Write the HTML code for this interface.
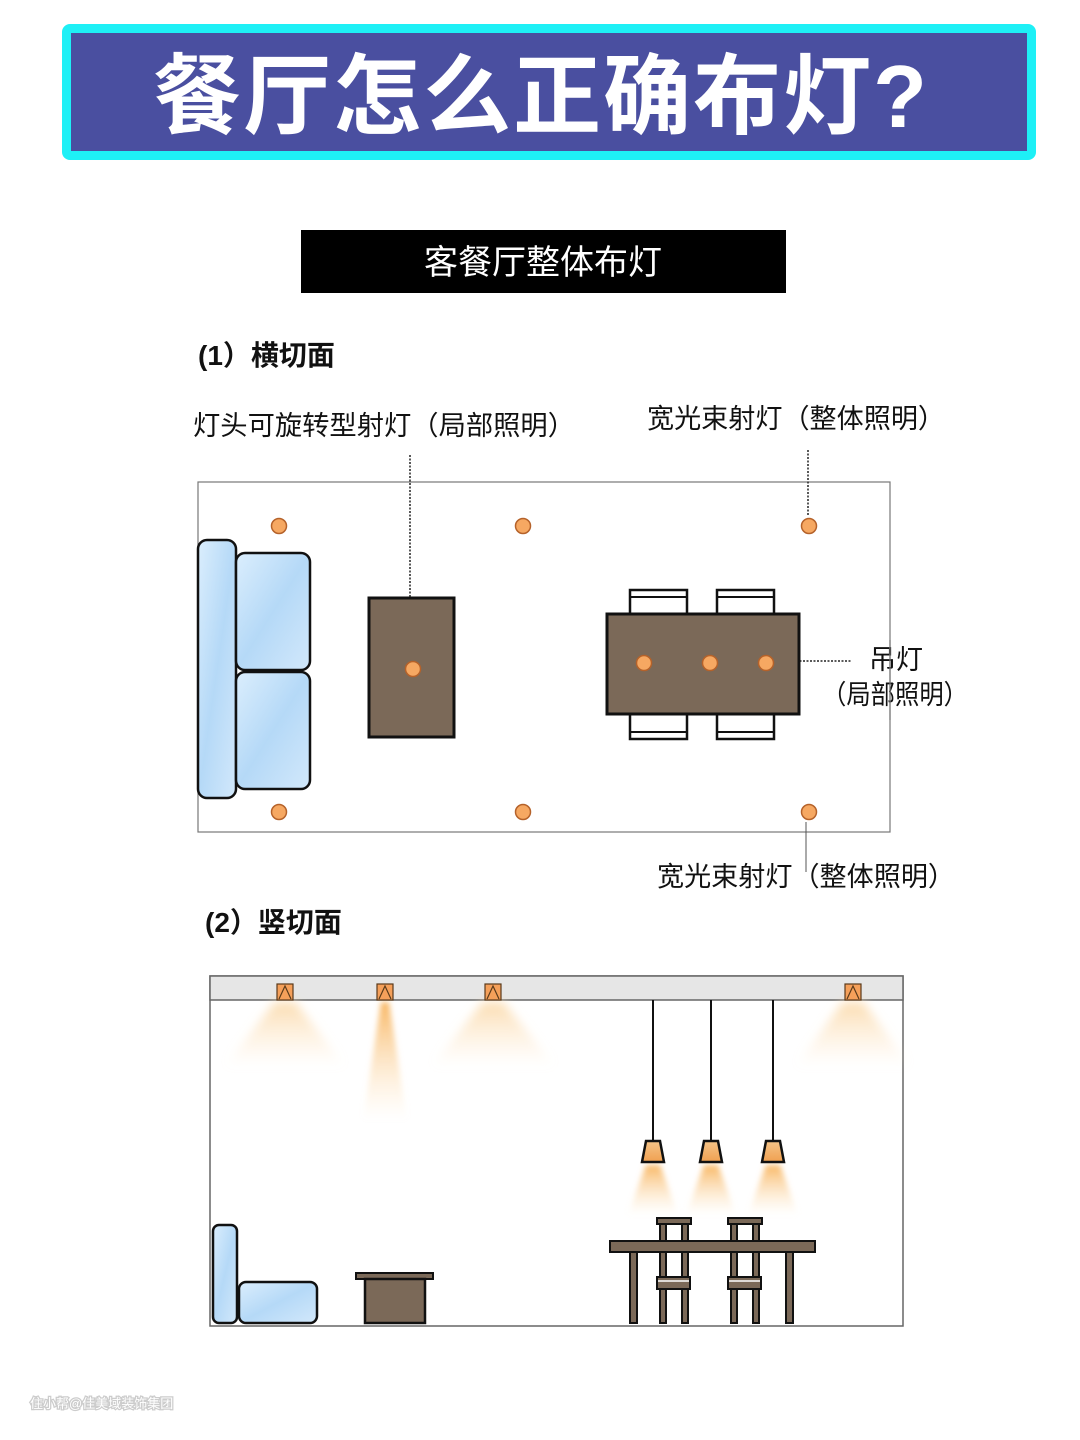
<!DOCTYPE html>
<html><head><meta charset="utf-8"><style>
html,body{margin:0;padding:0;background:#fff;width:1080px;height:1440px;overflow:hidden}
svg{display:block}
text{font-family:"Liberation Sans","Noto Sans CJK SC",sans-serif}
</style></head><body>
<svg width="1080" height="1440" viewBox="0 0 1080 1440" xmlns="http://www.w3.org/2000/svg">
<defs>
<linearGradient id="sofa" x1="0" y1="0" x2="1" y2="1">
<stop offset="0" stop-color="#dbeefd"/><stop offset="0.5" stop-color="#b5d9f7"/><stop offset="1" stop-color="#d2e8fb"/>
</linearGradient>
<linearGradient id="beamW" x1="0" y1="0" x2="0" y2="1">
<stop offset="0" stop-color="#fbd9a8" stop-opacity="0.9"/><stop offset="1" stop-color="#fde8cc" stop-opacity="0"/>
</linearGradient>
<linearGradient id="beamN" x1="0" y1="0" x2="0" y2="1">
<stop offset="0" stop-color="#f8b866"/><stop offset="1" stop-color="#fde2bd" stop-opacity="0"/>
</linearGradient>
<linearGradient id="shade" x1="0" y1="0" x2="0" y2="1">
<stop offset="0" stop-color="#f5c488"/><stop offset="1" stop-color="#f0a050"/>
</linearGradient>
<filter id="blur" x="-30%" y="-30%" width="160%" height="160%"><feGaussianBlur stdDeviation="5"/></filter>
<filter id="blur2" x="-30%" y="-30%" width="160%" height="160%"><feGaussianBlur stdDeviation="3"/></filter>
</defs>

<rect x="62" y="24" width="974" height="136" rx="8" fill="#1ef0f6"/>
<rect x="71" y="33" width="956" height="118" fill="#4a4fa0"/>
<text x="541" y="127" text-anchor="middle" font-size="88" font-weight="bold" fill="#fff" letter-spacing="2">餐厅怎么正确布灯?</text>

<rect x="301" y="230" width="485" height="63" fill="#000"/>
<text x="543" y="274" text-anchor="middle" font-size="34" fill="#fff">客餐厅整体布灯</text>

<text x="198" y="365" font-size="28" font-weight="bold" fill="#111">(1）横切面</text>
<text x="193" y="435" font-size="27" fill="#111" textLength="382" lengthAdjust="spacingAndGlyphs">灯头可旋转型射灯（局部照明）</text>
<text x="647" y="428" font-size="27" fill="#111" textLength="298" lengthAdjust="spacingAndGlyphs">宽光束射灯（整体照明）</text>

<rect x="198" y="482" width="692" height="350" fill="none" stroke="#777" stroke-width="1.2"/>
<line x1="410" y1="455" x2="410" y2="662" stroke="#222" stroke-width="1.5" stroke-dasharray="2,1.5"/>
<line x1="808" y1="450" x2="808" y2="515" stroke="#222" stroke-width="1.5" stroke-dasharray="2,1.5"/>
<line x1="789" y1="661" x2="852" y2="661" stroke="#222" stroke-width="1.5" stroke-dasharray="2,1.5"/>
<line x1="806" y1="822" x2="806" y2="872" stroke="#555" stroke-width="1"/>

<rect x="198" y="540" width="38" height="258" rx="9" fill="url(#sofa)" stroke="#111" stroke-width="2.5"/>
<rect x="236" y="553" width="74" height="117" rx="9" fill="url(#sofa)" stroke="#111" stroke-width="2.5"/>
<rect x="236" y="672" width="74" height="117" rx="9" fill="url(#sofa)" stroke="#111" stroke-width="2.5"/>

<rect x="369" y="598" width="85" height="139" fill="#7b6958" stroke="#111" stroke-width="3"/>

<g fill="#fff" stroke="#111" stroke-width="2.5">
<rect x="630" y="590" width="57" height="25"/><rect x="717" y="590" width="57" height="25"/>
<rect x="630" y="713" width="57" height="26"/><rect x="717" y="713" width="57" height="26"/>
</g>
<g stroke="#111" stroke-width="2">
<line x1="630" y1="597" x2="687" y2="597"/><line x1="717" y1="597" x2="774" y2="597"/>
<line x1="630" y1="732" x2="687" y2="732"/><line x1="717" y1="732" x2="774" y2="732"/>
</g>
<rect x="607" y="614" width="192" height="100" fill="#7b6958" stroke="#111" stroke-width="3"/>

<g fill="#f6a862" stroke="#b5622a" stroke-width="1.5">
<circle cx="279" cy="526" r="7.5"/><circle cx="523" cy="526" r="7.5"/><circle cx="809" cy="526" r="7.5"/>
<circle cx="279" cy="812" r="7.5"/><circle cx="523" cy="812" r="7.5"/><circle cx="809" cy="812" r="7.5"/>
<circle cx="413" cy="669" r="7.5"/>
<circle cx="644" cy="663" r="7.5"/><circle cx="710" cy="663" r="7.5"/><circle cx="766" cy="663" r="7.5"/>
</g>

<text x="869" y="669" font-size="27" fill="#111">吊灯</text>
<text x="822" y="704" font-size="27" fill="#111" textLength="146" lengthAdjust="spacingAndGlyphs">（局部照明）</text>
<line x1="890" y1="640" x2="890" y2="720" stroke="#777" stroke-width="1.2"/>
<text x="657" y="886" font-size="27" fill="#111" textLength="298" lengthAdjust="spacingAndGlyphs">宽光束射灯（整体照明）</text>

<text x="205" y="932" font-size="28" font-weight="bold" fill="#111">(2）竖切面</text>

<rect x="210" y="976" width="693" height="350" fill="#fff" stroke="#666" stroke-width="1.5"/>
<rect x="210" y="976" width="693" height="24" fill="#e6e6e6" stroke="#666" stroke-width="1.5"/>

<g filter="url(#blur)">
<polygon points="275,1002 295,1002 345,1066 225,1066" fill="url(#beamW)"/>
<polygon points="483,1002 503,1002 555,1066 432,1066" fill="url(#beamW)"/>
<polygon points="843,1002 863,1002 910,1066 796,1066" fill="url(#beamW)"/>
</g>
<g filter="url(#blur2)">
<polygon points="381,1002 389,1002 407,1120 363,1120" fill="url(#beamN)"/>
<polygon points="646,1165 660,1165 678,1215 628,1215" fill="url(#beamN)"/>
<polygon points="704,1165 718,1165 736,1215 686,1215" fill="url(#beamN)"/>
<polygon points="766,1165 780,1165 798,1215 748,1215" fill="url(#beamN)"/>
</g>

<g stroke="#5a3a1a" stroke-width="1.2">
<rect x="277" y="984" width="16" height="16" fill="#f5a05a"/>
<rect x="377" y="984" width="16" height="16" fill="#f5a05a"/>
<rect x="485" y="984" width="16" height="16" fill="#f5a05a"/>
<rect x="845" y="984" width="16" height="16" fill="#f5a05a"/>
<path d="M279,999 L285,986 L291,999 M379,999 L385,986 L391,999 M487,999 L493,986 L499,999 M847,999 L853,986 L859,999" fill="none"/>
</g>

<g stroke="#111" stroke-width="2">
<line x1="653" y1="1000" x2="653" y2="1141"/>
<line x1="711" y1="1000" x2="711" y2="1141"/>
<line x1="773" y1="1000" x2="773" y2="1141"/>
</g>
<g fill="url(#shade)" stroke="#111" stroke-width="2.5">
<polygon points="646,1141 660,1141 664,1162 642,1162"/>
<polygon points="704,1141 718,1141 722,1162 700,1162"/>
<polygon points="766,1141 780,1141 784,1162 762,1162"/>
</g>

<rect x="213" y="1225" width="24" height="98" rx="6" fill="url(#sofa)" stroke="#111" stroke-width="2.5"/>
<rect x="239" y="1282" width="78" height="41" rx="7" fill="url(#sofa)" stroke="#111" stroke-width="2.5"/>
<rect x="356" y="1273" width="77" height="6" fill="#7b6958" stroke="#111" stroke-width="2"/>
<rect x="365" y="1279" width="60" height="44" fill="#7b6958" stroke="#111" stroke-width="2.5"/>

<g fill="#7b6958" stroke="#111" stroke-width="2">
<rect x="657" y="1218" width="34" height="6"/>
<rect x="660" y="1224" width="6" height="99"/><rect x="682" y="1224" width="6" height="99"/>
<rect x="728" y="1218" width="34" height="6"/>
<rect x="731" y="1224" width="6" height="99"/><rect x="753" y="1224" width="6" height="99"/>
<rect x="657" y="1277" width="33" height="12"/>
<rect x="728" y="1277" width="33" height="12"/>
<rect x="610" y="1241" width="205" height="11"/>
<rect x="630" y="1252" width="7" height="71"/><rect x="786" y="1252" width="7" height="71"/>
</g>
<g stroke="#fff" stroke-width="1.5"><line x1="658" y1="1281" x2="689" y2="1281"/><line x1="729" y1="1281" x2="760" y2="1281"/></g>

<text x="30" y="1408" font-size="13" fill="#fff" stroke="#ccc" stroke-width="2.5" paint-order="stroke">住小帮@佳美域装饰集团</text>
</svg>
</body></html>
